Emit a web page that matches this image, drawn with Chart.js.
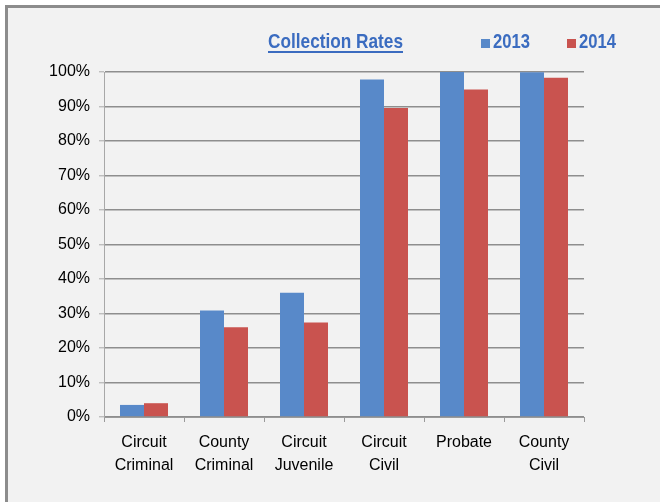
<!DOCTYPE html>
<html>
<head>
<meta charset="utf-8">
<script src="https://cdn.jsdelivr.net/npm/chart.js@4"></script>
<style>
  html, body { margin: 0; padding: 0; background: #fff; overflow: hidden; }
  #frame {
    position: absolute; left: 5px; top: 5px; width: 700px; height: 560px;
    background: #f2f2f2; border-left: 3px solid #8c8c8c; border-top: 3px solid #8c8c8c;
  }
  #rates-chart { position: absolute; left: 0; top: 0; }
</style>
</head>
<body>
<div id="frame"></div>
<canvas id="rates-chart" width="660" height="502"></canvas>
<script>
// categories and values (percent)
const courts = [["Circuit", "Criminal"], ["County", "Criminal"], ["Circuit", "Juvenile"],
                ["Circuit", "Civil"], "Probate", ["County", "Civil"]];
const rates2013 = [3.5, 30.9, 36.0, 97.8, 100, 99.9];
const rates2014 = [4.0, 26.0, 27.4, 89.6, 94.9, 98.3];
const yearLabels = ["2013", "2014"];
const yearColors = ["#5889c9", "#c9534f"];

const chartTitle = "Collection Rates";
const headFont = 'bold 21px "Liberation Sans", Arial, sans-serif';
const headBlue = '#3b6cc0';

// draw text squeezed horizontally to a given width (the original uses a narrow face)
function narrowText(ctx, text, x, y, width) {
    const w = ctx.measureText(text).width;
    ctx.save();
    ctx.translate(x, y);
    ctx.scale(width / w, 1);
    ctx.fillText(text, 0, 0);
    ctx.restore();
}

// title with underline + legend on one line above the plot
const headerPlugin = {
    id: 'header',
    afterDraw(chart) {
        const ctx = chart.ctx;
        ctx.save();
        ctx.font = headFont;
        ctx.textBaseline = 'alphabetic';
        ctx.fillStyle = headBlue;
        narrowText(ctx, chartTitle, 268, 48, 135);
        ctx.fillRect(268, 51, 135, 2);

        ctx.font = 'bold 20px "Liberation Sans", Arial, sans-serif';
        let x = 481;
        chart.data.datasets.forEach(ds => {
            ctx.fillStyle = ds.backgroundColor;
            ctx.fillRect(x, 39, 9, 9);
            ctx.fillStyle = headBlue;
            narrowText(ctx, ds.label, x + 12, 48, 37);
            x += 86;
        });
        ctx.restore();
    }
};

const ctx = document.getElementById('rates-chart').getContext('2d');
new Chart(ctx, {
    type: 'bar',
    data: {
        labels: courts,
        datasets: yearLabels.map((y, i) => ({
            label: y,
            data: i === 0 ? rates2013 : rates2014,
            backgroundColor: yearColors[i],
            categoryPercentage: 0.6,
            barPercentage: 1.0
        }))
    },
    options: {
        responsive: false,
        animation: false,
        layout: { padding: { left: 0, right: 76, top: 72, bottom: 0 } },
        plugins: {
            legend: { display: false },
            title: { display: false },
            tooltip: { enabled: false }
        },
        scales: {
            x: {
                afterFit: s => { s.height = 85; },
                grid: { drawOnChartArea: false, drawTicks: true, tickLength: 5, color: '#9a9a9a' },
                border: { color: '#9a9a9a' },
                ticks: {
                    color: '#000',
                    padding: 9,
                    maxRotation: 0,
                    font: { family: '"Liberation Sans", Arial, sans-serif', size: 16, lineHeight: 1.45 }
                }
            },
            y: {
                min: 0,
                max: 100,
                afterFit: s => { s.width = 104; },
                grid: { color: '#8e8e8e', lineWidth: 1.6, tickLength: 5, tickColor: '#a8a8a8', tickWidth: 1 },
                border: { color: '#a8a8a8', width: 1 },
                ticks: {
                    stepSize: 10,
                    padding: 9,
                    color: '#000',
                    font: { family: '"Liberation Sans", Arial, sans-serif', size: 16 },
                    callback: v => v + '%'
                }
            }
        }
    },
    plugins: [headerPlugin]
});
</script>
</body>
</html>
